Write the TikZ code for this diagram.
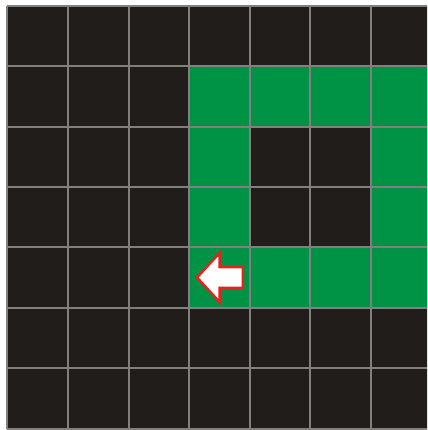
\documentclass[tikz,border=0pt]{standalone}
\usepackage[dvipsnames]{xcolor}
\usepackage{tikz}
\definecolor{cellblack}{HTML}{211D1A}
\definecolor{cellgreen}{HTML}{009245}
\definecolor{arrowred}{HTML}{E3241E}
\begin{document}
\begin{tikzpicture}[x=60.6pt,y=-60.4pt]
 \useasboundingbox (-0.1205,-0.096) rectangle (6.926,7.023);
 \clip (-0.1205,-0.096) rectangle (6.926,7.023);
 \fill[white] (-0.1205,-0.096) rectangle (6.926,7.023);
 \fill[cellblack] (0,0) rectangle (7,7);
 \fill[cellgreen] (3,1) rectangle (7,5);
 \fill[cellblack] (4,2) rectangle (6,4);
 \foreach \i in {0,...,7}
  {\draw[line width=2pt,color=gray] (\i,0) -- (\i,7);
   \draw[line width=2pt,color=gray] (0,\i) -- (7,\i);}
 \draw[line width=2.5pt,arrowred,fill=white,line join=miter]
  (3.13,4.498) -- (3.502,4.093) -- (3.502,4.325) -- (3.889,4.325)
  -- (3.889,4.672) -- (3.502,4.672) -- (3.502,4.904) -- cycle;
\end{tikzpicture}
\end{document}
